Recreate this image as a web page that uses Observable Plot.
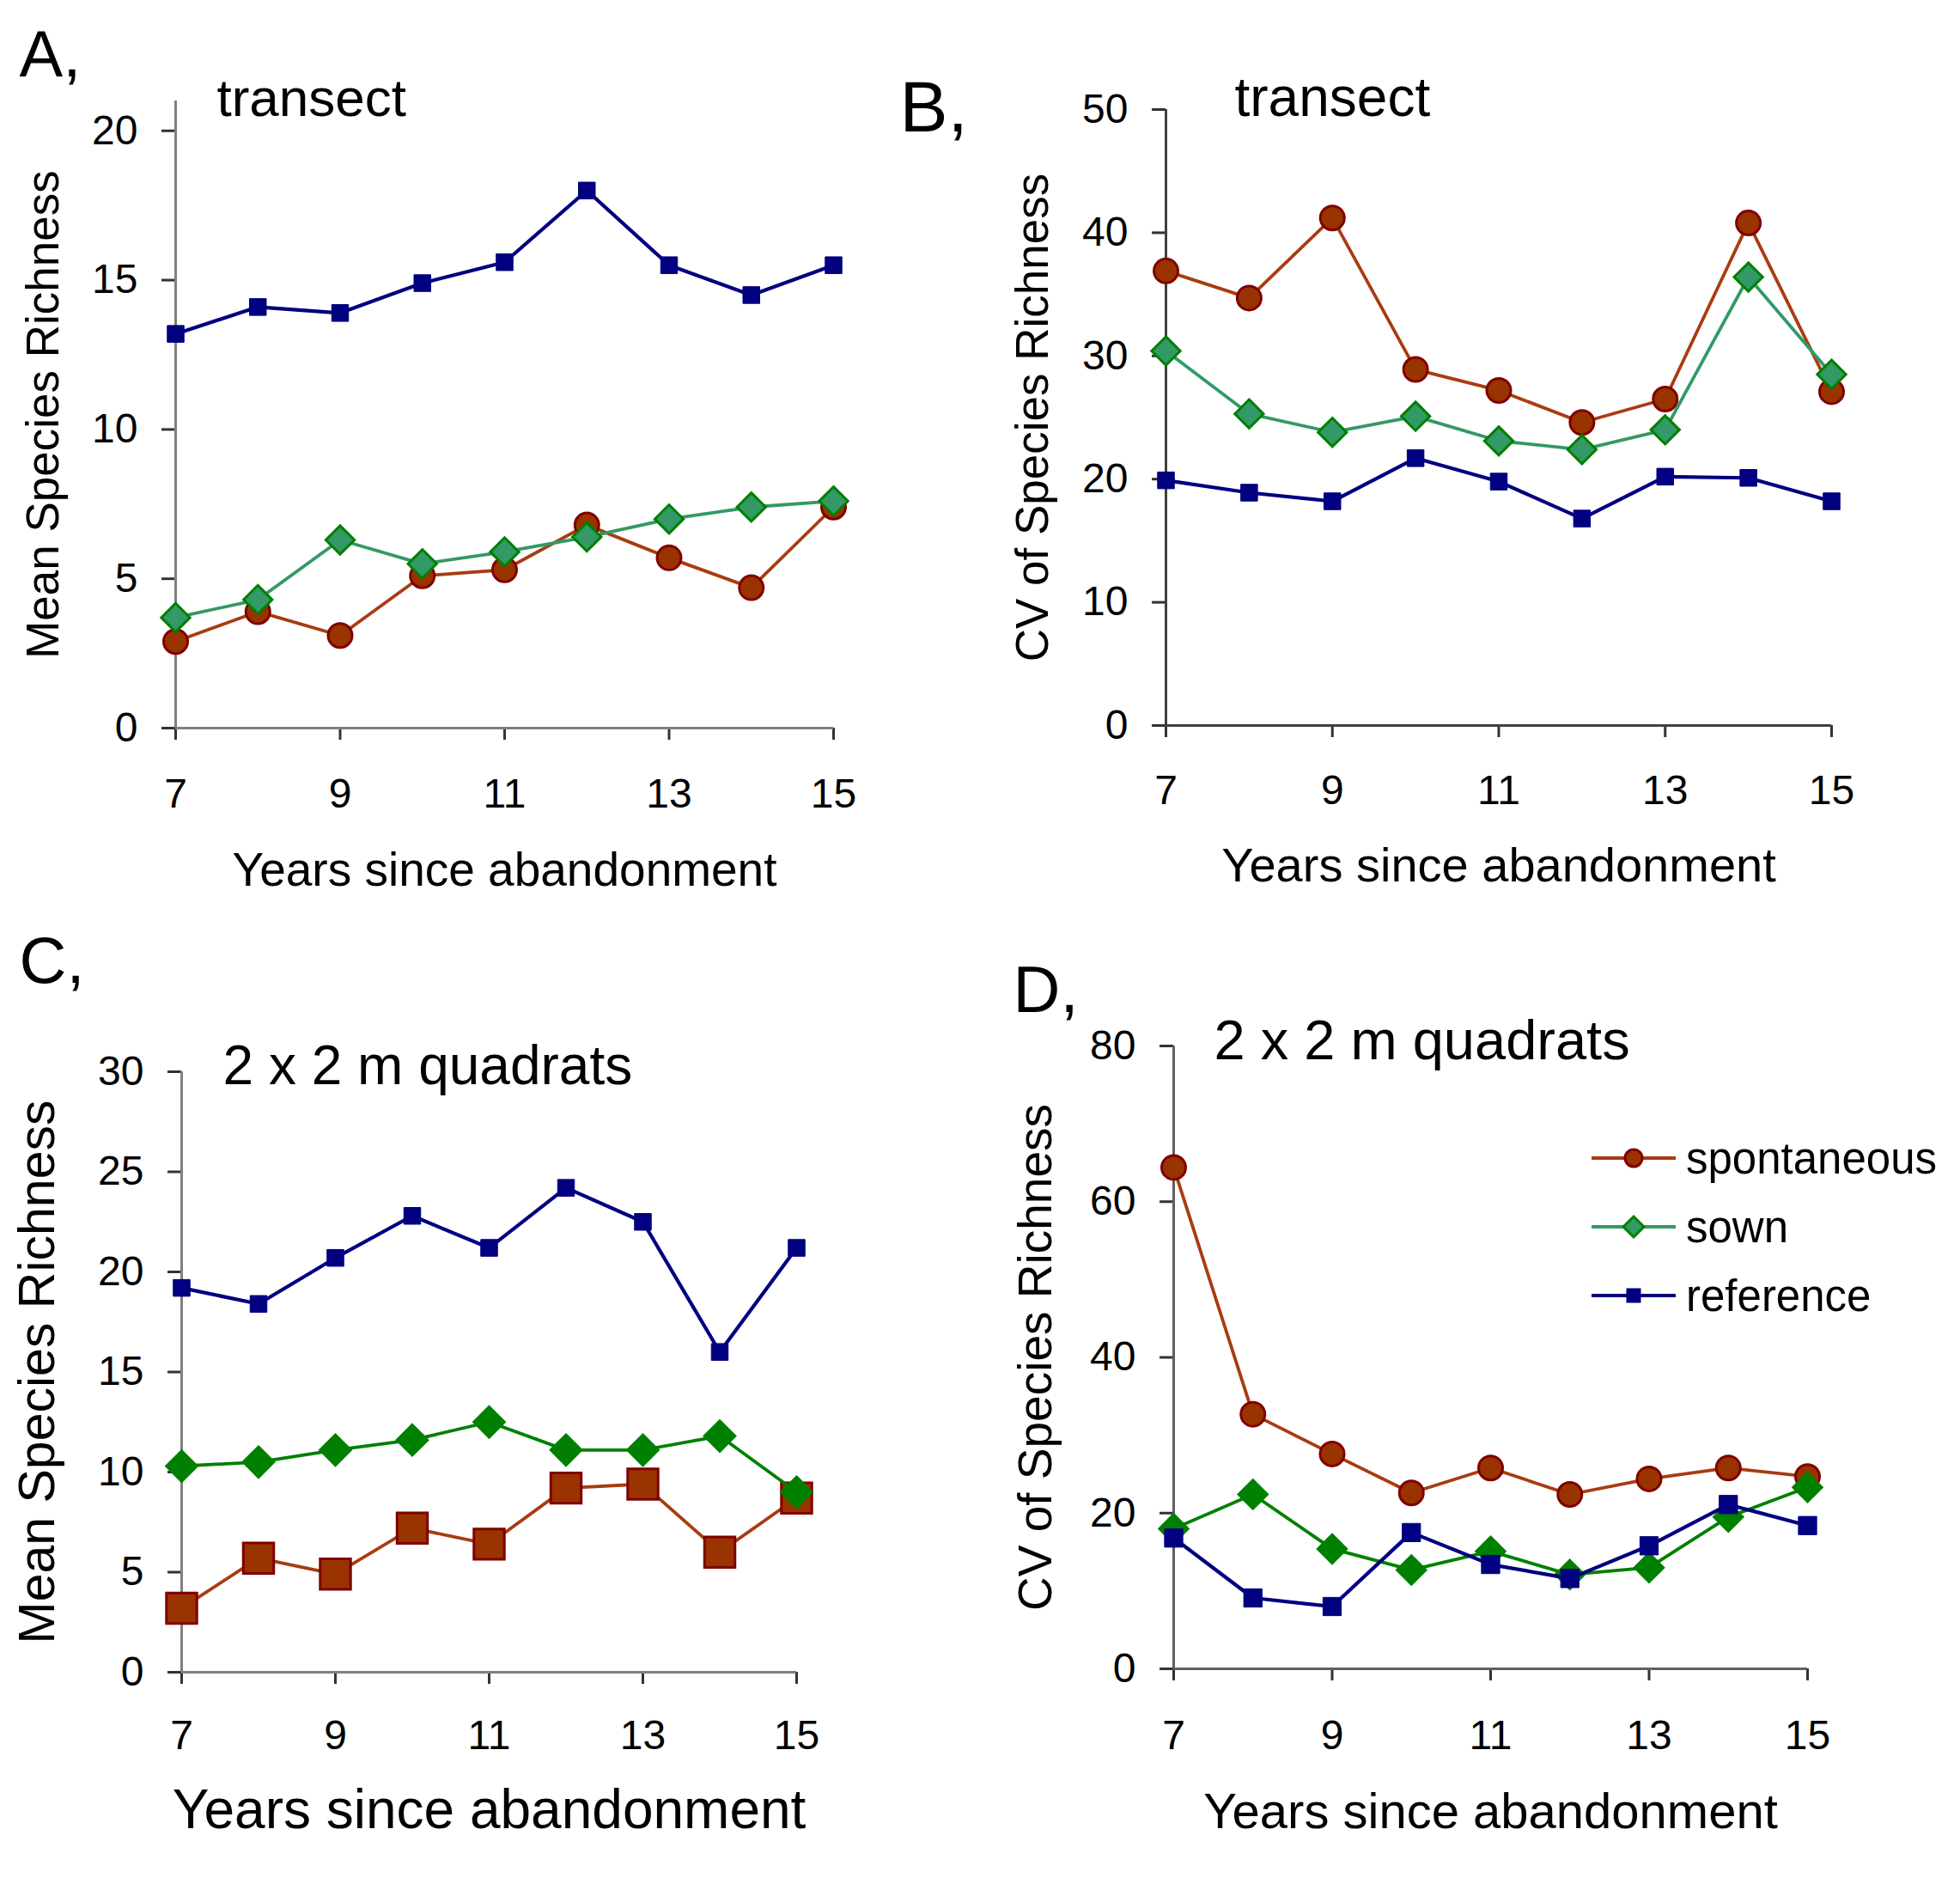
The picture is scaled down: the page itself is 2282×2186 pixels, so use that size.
<!DOCTYPE html>
<html>
<head>
<meta charset="utf-8">
<script src="https://cdn.jsdelivr.net/npm/d3@7"></script>
<script src="https://cdn.jsdelivr.net/npm/@observablehq/plot@0.6"></script>
<style>
  body { margin: 0; background: #fff; }
  #root { position: relative; width: 2282px; height: 2186px; overflow: hidden; background: #fff;
          font-family: "Liberation Sans", Arial, sans-serif; }
  .panel { position: absolute; }
  .legend { position: absolute; font-family: "Liberation Sans", Arial, sans-serif; color: #000; }
  .legend .row { display: flex; align-items: center; height: 80px; }
  .legend .row span { font-size: 51px; margin-left: 12px; }
</style>
</head>
<body>
<div id="root"></div>
<script>
// ---------------- data ----------------
const years = [7, 8, 9, 10, 11, 12, 13, 14, 15];
const xTicks = [7, 9, 11, 13, 15];
const seriesNames = ["spontaneous", "sown", "reference"];
const panelLetters = ["A,", "B,", "C,", "D,"];
const panelTitles = ["transect", "transect", "2 x 2 m quadrats", "2 x 2 m quadrats"];
const yTitles = ["Mean Species Richness", "CV of Species Richness", "Mean Species Richness", "CV of Species Richness"];
const xTitle = "Years since abandonment";

const yTicksA = [0, 5, 10, 15, 20];
const yTicksB = [0, 10, 20, 30, 40, 50];
const yTicksC = [0, 5, 10, 15, 20, 25, 30];
const yTicksD = [0, 20, 40, 60, 80];

// Panel A: transect, mean species richness
const aSpontaneous = [2.9, 3.9, 3.1, 5.1, 5.3, 6.8, 5.7, 4.7, 7.4];
const aSown        = [3.7, 4.3, 6.3, 5.5, 5.9, 6.4, 7.0, 7.4, 7.6];
const aReference   = [13.2, 14.1, 13.9, 14.9, 15.6, 18.0, 15.5, 14.5, 15.5];
// Panel B: transect, CV of species richness
const bSpontaneous = [36.9, 34.7, 41.2, 28.9, 27.2, 24.6, 26.5, 40.8, 27.1];
const bSown        = [30.4, 25.3, 23.8, 25.1, 23.1, 22.4, 24.0, 36.4, 28.5];
const bReference   = [19.9, 18.9, 18.2, 21.7, 19.8, 16.8, 20.2, 20.1, 18.2];
// Panel C: 2 x 2 m quadrats, mean species richness
const cSpontaneous = [3.2, 5.7, 4.9, 7.2, 6.4, 9.2, 9.4, 6.0, 8.7];
const cSown        = [10.3, 10.5, 11.1, 11.6, 12.5, 11.1, 11.1, 11.8, 9.0];
const cReference   = [19.2, 18.4, 20.7, 22.8, 21.2, 24.2, 22.5, 16.0, 21.2];
// Panel D: 2 x 2 m quadrats, CV of species richness
const dSpontaneous = [64.4, 32.7, 27.6, 22.6, 25.8, 22.4, 24.4, 25.8, 24.7];
const dSown        = [18.0, 22.4, 15.4, 12.7, 15.1, 12.1, 13.0, 19.5, 23.3];
const dReference   = [16.8, 9.1, 8.0, 17.5, 13.4, 11.6, 15.8, 21.1, 18.4];

// ---------------- styles / layout ----------------
const font = "Liberation Sans, Arial, sans-serif";
const C_SPON_LINE = "#a83c12", C_SPON_FILL = "#993300", C_SPON_EDGE = "#800000";
const C_SOWN_LIGHT = "#339966", C_SOWN_DARK = "#008000";
const C_REF = "#000080";

const panels = [
  { left: 0, top: 0, width: 1141, height: 1093, mL: 204, mR: 171, mT: 117, mB: 246,
    yTop: 21, yTicks: yTicksA, values: [aSpontaneous, aSown, aReference], axisColor: "#808080",
    letterDx: -182, letterDy: -29, letterSize: 76, titleDx: 48, titleDy: 17, titleSize: 62,
    tickFont: 48, xPad: 44, yTitleDx: -153, yTitleSize: 53, xTitleDy: 166, xTitleSize: 55,
    sownLine: C_SOWN_LIGHT, sownFill: C_SOWN_LIGHT, sponSymbol: "circle", sponR: 14, sownR: 15, refR: 11 },
  { left: 1000, top: 0, width: 1282, height: 1093, mL: 357, mR: 150, mT: 127, mB: 249,
    yTop: 50, yTicks: yTicksB, values: [bSpontaneous, bSown, bReference], axisColor: "#404040",
    letterDx: -310, letterDy: 25, letterSize: 84, titleDx: 80, titleDy: 7, titleSize: 64,
    tickFont: 48, xPad: 43, yTitleDx: -154, yTitleSize: 53, xTitleDy: 164, xTitleSize: 56,
    sownLine: C_SOWN_LIGHT, sownFill: C_SOWN_LIGHT, sponSymbol: "circle", sponR: 14, sownR: 15, refR: 11 },
  { left: 0, top: 1093, width: 1141, height: 1093, mL: 211, mR: 214, mT: 154, mB: 240,
    yTop: 30, yTicks: yTicksC, values: [cSpontaneous, cSown, cReference], axisColor: "#808080",
    letterDx: -189, letterDy: -104, letterSize: 76, titleDx: 48, titleDy: 14, titleSize: 64,
    tickFont: 48, xPad: 41, yTitleDx: -167, yTitleSize: 59, xTitleDy: 161, xTitleSize: 64,
    sownLine: C_SOWN_DARK, sownFill: C_SOWN_DARK, sponSymbol: "square", sponR: 20, sownR: 16, refR: 11 },
  { left: 1100, top: 1093, width: 1182, height: 1093, mL: 266, mR: 178, mT: 124, mB: 244,
    yTop: 80, yTicks: yTicksD, values: [dSpontaneous, dSown, dReference], axisColor: "#606060",
    letterDx: -187, letterDy: -40, letterSize: 76, titleDx: 47, titleDy: 15, titleSize: 65,
    tickFont: 48, xPad: 45, yTitleDx: -160, yTitleSize: 55, xTitleDy: 167, xTitleSize: 58,
    sownLine: C_SOWN_DARK, sownFill: C_SOWN_DARK, sponSymbol: "circle", sponR: 14, sownR: 15, refR: 12 }
];

function rowsFor(vals) {
  return years.map((year, i) => ({ year, value: vals[i] }));
}

const root = document.getElementById("root");

panels.forEach((p, idx) => {
  const [spon, sown, ref] = p.values.map(rowsFor);
  const chart = Plot.plot({
    width: p.width,
    height: p.height,
    marginLeft: p.mL, marginRight: p.mR, marginTop: p.mT, marginBottom: p.mB,
    x: { domain: [7, 15] },
    y: { domain: [0, p.yTop] },
    style: { fontFamily: font, background: "white", color: "black", overflow: "visible" },
    marks: [
      Plot.axisY({ ticks: p.yTicks, tickSize: 16, tickPadding: 28, fontSize: p.tickFont, label: null,
                   stroke: "#333", strokeWidth: 3, fill: "black", tickFormat: d3.format("d") }),
      Plot.axisX({ ticks: xTicks, tickSize: 14, tickPadding: p.xPad, fontSize: p.tickFont, label: null,
                   stroke: "#333", strokeWidth: 3, fill: "black", tickFormat: d3.format("d") }),
      Plot.ruleY([0], { x1: 7, x2: 15, stroke: p.axisColor, strokeWidth: 3 }),
      Plot.ruleX([7], { y1: 0, y2: p.yTop, stroke: p.axisColor, strokeWidth: 3 }),
      // spontaneous
      Plot.line(spon, { x: "year", y: "value", stroke: C_SPON_LINE, strokeWidth: 3.8 }),
      Plot.dot(spon, { x: "year", y: "value", symbol: p.sponSymbol, r: p.sponR,
                       fill: C_SPON_FILL, stroke: C_SPON_EDGE, strokeWidth: 3 }),
      // sown
      Plot.line(sown, { x: "year", y: "value", stroke: p.sownLine, strokeWidth: 3.8 }),
      Plot.dot(sown, { x: "year", y: "value", symbol: "diamond2", r: p.sownR,
                       fill: p.sownFill, stroke: C_SOWN_DARK, strokeWidth: 3 }),
      // reference
      Plot.line(ref, { x: "year", y: "value", stroke: C_REF, strokeWidth: 4.2 }),
      Plot.dot(ref, { x: "year", y: "value", symbol: "square", r: p.refR,
                      fill: C_REF, stroke: C_REF, strokeWidth: 1 }),
      // texts
      Plot.text([panelLetters[idx]], { text: d => d, frameAnchor: "top-left", textAnchor: "start",
                 lineAnchor: "bottom", dx: p.letterDx, dy: p.letterDy, fontSize: p.letterSize, fill: "black" }),
      Plot.text([panelTitles[idx]], { text: d => d, frameAnchor: "top-left", textAnchor: "start",
                 lineAnchor: "bottom", dx: p.titleDx, dy: p.titleDy, fontSize: p.titleSize, fill: "black" }),
      Plot.text([yTitles[idx]], { text: d => d, frameAnchor: "left", textAnchor: "middle",
                 lineAnchor: "middle", rotate: -90, dx: p.yTitleDx, fontSize: p.yTitleSize, fill: "black" }),
      Plot.text([xTitle], { text: d => d, frameAnchor: "bottom", textAnchor: "middle",
                 lineAnchor: "middle", dy: p.xTitleDy, fontSize: p.xTitleSize, fill: "black" })
    ]
  });
  chart.classList.add("panel");
  chart.style.left = p.left + "px";
  chart.style.top = p.top + "px";
  root.appendChild(chart);
});

// ---------------- legend (panel D) ----------------
const legendItems = [
  { name: seriesNames[0], line: C_SPON_LINE, fill: C_SPON_FILL, edge: C_SPON_EDGE, shape: "circle" },
  { name: seriesNames[1], line: C_SOWN_LIGHT, fill: C_SOWN_LIGHT, edge: C_SOWN_DARK, shape: "diamond" },
  { name: seriesNames[2], line: C_REF, fill: C_REF, edge: C_REF, shape: "square" }
];
const legend = document.createElement("div");
legend.className = "legend";
legend.style.left = "1853px";
legend.style.top = "1308px";
legendItems.forEach(it => {
  const row = document.createElement("div");
  row.className = "row";
  let marker;
  if (it.shape === "circle") marker = `<circle cx="49" cy="20" r="10" fill="${it.fill}" stroke="${it.edge}" stroke-width="3"/>`;
  else if (it.shape === "diamond") marker = `<path d="M49,8 L61,20 L49,32 L37,20 Z" fill="${it.fill}" stroke="${it.edge}" stroke-width="3"/>`;
  else marker = `<rect x="41" y="12" width="16" height="16" fill="${it.fill}" stroke="${it.edge}" stroke-width="1"/>`;
  row.innerHTML = `<svg width="98" height="40"><line x1="0" y1="20" x2="98" y2="20" stroke="${it.line}" stroke-width="4"/>${marker}</svg><span>${it.name}</span>`;
  legend.appendChild(row);
});
root.appendChild(legend);
</script>
</body>
</html>
